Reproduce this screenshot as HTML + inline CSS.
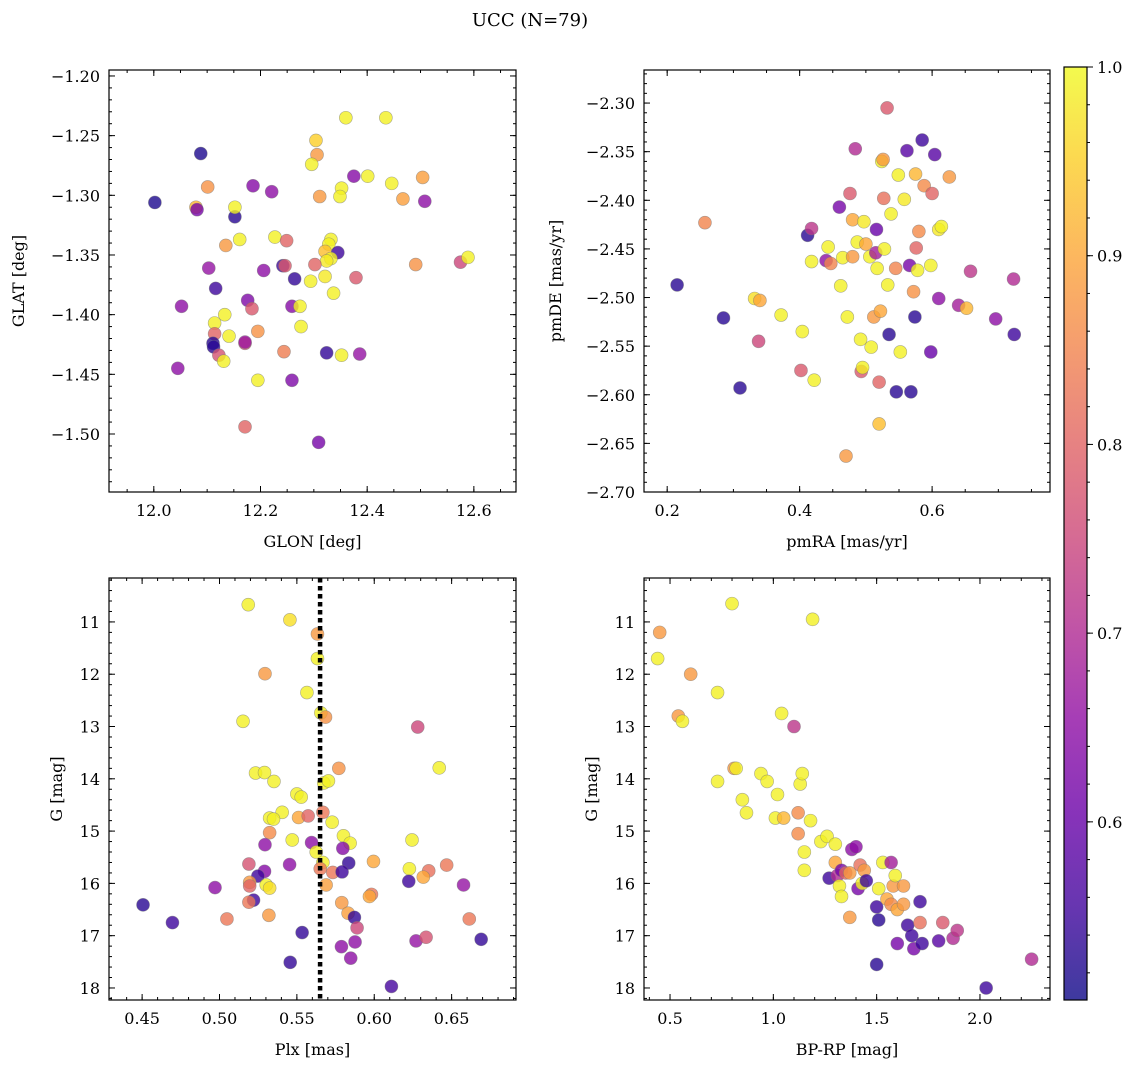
<!DOCTYPE html>
<html><head><meta charset="utf-8"><style>
html,body{margin:0;padding:0;background:#fff;}
svg{display:block;font-family:"DejaVu Serif","Liberation Serif",serif;}
</style></head><body>
<svg id="chart" width="1136" height="1067" viewBox="0 0 1136 1067" xmlns="http://www.w3.org/2000/svg">
<text x="530" y="26" font-size="18" text-anchor="middle">UCC (N=79)</text>
</svg>
<script>
// ---- data ----
const p1x=[12.002,12.088,12.101,12.079,12.081,12.152,12.152,12.186,12.221,12.161,12.135,12.227,12.242,12.249,12.246,12.206,12.103,12.116,12.052,12.176,12.184,12.259,12.274,12.264,12.133,12.114,12.276,12.141,12.195,12.114,12.111,12.171,12.171,12.112,12.122,12.131,12.045,12.195,12.244,12.259,12.171,12.309,12.304,12.306,12.296,12.360,12.435,12.375,12.401,12.446,12.311,12.352,12.349,12.467,12.508,12.504,12.332,12.328,12.321,12.345,12.332,12.324,12.302,12.321,12.294,12.337,12.379,12.491,12.575,12.589,12.324,12.352,12.386];
const p1y=[-1.306,-1.265,-1.293,-1.310,-1.312,-1.318,-1.310,-1.292,-1.297,-1.337,-1.342,-1.335,-1.359,-1.338,-1.359,-1.363,-1.361,-1.378,-1.393,-1.388,-1.395,-1.393,-1.393,-1.370,-1.400,-1.407,-1.410,-1.418,-1.414,-1.416,-1.424,-1.424,-1.423,-1.427,-1.434,-1.439,-1.445,-1.455,-1.431,-1.455,-1.494,-1.507,-1.254,-1.266,-1.274,-1.235,-1.235,-1.284,-1.284,-1.290,-1.301,-1.294,-1.301,-1.303,-1.305,-1.285,-1.337,-1.341,-1.347,-1.348,-1.353,-1.355,-1.358,-1.368,-1.372,-1.382,-1.369,-1.358,-1.356,-1.352,-1.432,-1.434,-1.433];
const p1c=[0.52,0.52,0.87,0.92,0.62,0.53,0.99,0.64,0.65,0.99,0.88,0.99,0.55,0.80,0.78,0.65,0.66,0.55,0.65,0.63,0.78,0.64,0.99,0.54,0.99,0.99,0.99,0.99,0.87,0.80,0.53,0.77,0.67,0.53,0.77,0.99,0.65,0.99,0.84,0.63,0.80,0.62,0.95,0.88,0.99,0.99,0.99,0.64,0.99,0.99,0.88,0.99,0.99,0.89,0.65,0.89,0.99,0.99,0.93,0.55,0.99,0.98,0.80,0.98,0.99,0.99,0.78,0.87,0.75,0.99,0.54,0.99,0.66];

const p2x=[0.215,0.257,0.285,0.31,0.332,0.338,0.34,0.372,0.402,0.404,0.412,0.418,0.418,0.422,0.44,0.443,0.447,0.46,0.462,0.465,0.47,0.472,0.476,0.48,0.48,0.484,0.487,0.492,0.493,0.495,0.497,0.5,0.506,0.508,0.512,0.515,0.516,0.517,0.52,0.52,0.522,0.524,0.526,0.527,0.528,0.532,0.533,0.535,0.538,0.545,0.546,0.549,0.552,0.558,0.562,0.566,0.568,0.572,0.574,0.575,0.576,0.578,0.58,0.585,0.588,0.598,0.598,0.6,0.604,0.61,0.61,0.614,0.626,0.64,0.652,0.658,0.696,0.723,0.724];
const p2y=[-2.487,-2.423,-2.521,-2.593,-2.501,-2.545,-2.503,-2.518,-2.575,-2.535,-2.436,-2.429,-2.463,-2.585,-2.462,-2.448,-2.465,-2.407,-2.488,-2.459,-2.663,-2.52,-2.393,-2.42,-2.458,-2.347,-2.443,-2.543,-2.576,-2.572,-2.422,-2.445,-2.458,-2.551,-2.52,-2.454,-2.43,-2.47,-2.587,-2.63,-2.514,-2.36,-2.358,-2.398,-2.45,-2.305,-2.487,-2.538,-2.414,-2.47,-2.597,-2.374,-2.556,-2.399,-2.349,-2.467,-2.597,-2.494,-2.52,-2.373,-2.449,-2.472,-2.432,-2.338,-2.385,-2.467,-2.556,-2.393,-2.353,-2.43,-2.501,-2.427,-2.376,-2.508,-2.511,-2.473,-2.522,-2.481,-2.538];
const p2c=[0.53,0.85,0.53,0.53,0.97,0.75,0.9,0.99,0.78,0.99,0.53,0.72,0.99,0.99,0.65,0.99,0.85,0.62,0.99,0.99,0.88,0.99,0.78,0.9,0.88,0.7,0.99,0.99,0.78,0.99,0.98,0.9,0.99,0.99,0.88,0.68,0.6,0.99,0.8,0.93,0.9,0.99,0.88,0.82,0.99,0.78,0.99,0.53,0.99,0.85,0.53,0.99,0.99,0.98,0.58,0.62,0.53,0.87,0.53,0.92,0.8,0.99,0.86,0.55,0.86,0.99,0.6,0.8,0.58,0.98,0.65,0.99,0.88,0.68,0.92,0.72,0.65,0.7,0.55];

const p3x=[0.5186,0.5455,0.5633,0.5633,0.5294,0.5565,0.5655,0.5685,0.5152,0.6281,0.6420,0.5771,0.5233,0.5291,0.5352,0.5674,0.5704,0.5500,0.5528,
0.5405,0.5324,0.5349,0.5511,0.5573,0.5668,0.5728,0.5324,0.5801,0.5844,0.5470,0.6244,0.5294,0.5595,0.5797,0.5625,0.5668,0.5835,0.5453,0.5190,0.5995,0.5651,0.5732,0.5792,0.6227,0.6352,0.6468,0.5291,0.5248,0.6317,0.6223,0.6577,0.4971,0.5195,0.5195,0.5302,0.5324,0.5689,0.4506,0.5220,0.5190,0.5790,0.5982,0.5969,0.5831,0.5872,0.5889,0.4696,0.5048,0.5319,0.6614,0.5534,0.5876,0.5788,0.6270,0.6335,0.6691,0.5848,0.5457,0.6111];
const p3y=[10.67,10.96,11.23,11.70,11.99,12.35,12.74,12.82,12.90,13.01,13.79,13.80,13.89,13.88,14.05,14.08,14.04,14.29,14.35,
14.64,14.75,14.77,14.74,14.71,14.64,14.83,15.03,15.09,15.23,15.17,15.17,15.26,15.22,15.33,15.40,15.60,15.61,15.64,15.63,15.58,15.72,15.79,15.78,15.72,15.76,15.65,15.77,15.86,15.88,15.96,16.03,16.08,15.98,16.05,16.03,16.09,16.03,16.41,16.32,16.36,16.37,16.21,16.25,16.57,16.65,16.85,16.75,16.68,16.61,16.68,16.94,17.12,17.21,17.10,17.03,17.07,17.43,17.51,17.97];
const p3c=[0.99,0.97,0.88,0.99,0.88,0.99,0.99,0.87,0.99,0.75,0.99,0.87,0.99,0.99,0.99,0.99,0.99,0.99,0.99,
0.99,0.99,0.99,0.9,0.8,0.83,0.99,0.86,0.99,0.99,0.99,0.99,0.65,0.65,0.64,0.99,0.99,0.54,0.65,0.77,0.9,0.83,0.83,0.55,0.99,0.82,0.83,0.64,0.55,0.9,0.55,0.66,0.65,0.88,0.8,0.99,0.97,0.89,0.53,0.55,0.83,0.88,0.83,0.9,0.89,0.54,0.75,0.55,0.83,0.88,0.83,0.54,0.65,0.65,0.66,0.77,0.54,0.65,0.54,0.56];
const plxLine=[0.565];

const p4x=[0.45,0.44,0.54,0.56,0.6,0.73,0.73,0.8,0.81,0.82,0.85,0.87,0.94,0.97,1.01,1.02,1.04,1.05,1.1,1.12,1.12,1.13,1.14,1.15,1.15,1.18,1.19,1.23,1.26,1.27,1.3,1.3,1.31,1.33,1.32,1.33,1.35,1.37,1.37,1.38,1.4,1.41,1.42,1.43,1.44,1.45,1.5,1.5,1.51,1.51,1.53,1.55,1.57,1.57,1.58,1.59,1.6,1.6,1.63,1.63,1.65,1.67,1.68,1.71,1.71,1.72,1.8,1.82,1.87,1.89,2.03,2.25];
const p4y=[11.2,11.7,12.8,12.9,12.0,12.35,14.05,10.65,13.8,13.8,14.4,14.65,13.9,14.05,14.75,14.3,12.75,14.75,13.0,14.65,15.05,14.1,13.9,15.4,15.75,14.8,10.95,15.2,15.1,15.9,15.25,15.6,15.85,15.75,16.05,16.25,15.8,15.8,16.65,15.35,15.3,16.1,15.65,16.0,15.75,15.95,17.55,16.45,16.7,16.1,15.6,16.3,15.6,16.4,16.05,15.85,16.5,17.15,16.05,16.4,16.8,17.0,17.25,16.35,16.75,17.15,17.1,16.75,17.05,16.9,18.0,17.45];
const p4c=[0.88,0.99,0.88,0.99,0.88,0.99,0.99,0.99,0.88,0.99,0.99,0.99,0.99,0.99,0.99,0.99,0.99,0.92,0.72,0.86,0.86,0.99,0.99,0.99,0.99,0.99,0.99,0.99,0.99,0.55,0.99,0.9,0.7,0.62,0.99,0.99,0.8,0.88,0.88,0.65,0.65,0.62,0.82,0.99,0.88,0.55,0.53,0.55,0.53,0.99,0.99,0.9,0.68,0.86,0.88,0.99,0.9,0.62,0.88,0.88,0.55,0.55,0.62,0.55,0.82,0.55,0.58,0.78,0.7,0.72,0.55,0.7];

const cbTicks=[0.6,0.7,0.8,0.9,1.0];
const VMIN=0.5056, VMAX=1.0;

// ---- helpers ----
const NS="http://www.w3.org/2000/svg";
const svg=document.getElementById('chart');
function mk(tag,attrs,parent){const e=document.createElementNS(NS,tag);for(const k in attrs)e.setAttribute(k,attrs[k]);(parent||svg).appendChild(e);return e;}
const plasma=[[13,8,135],[65,4,157],[106,0,168],[143,13,164],[177,42,144],[204,71,120],[225,100,98],[242,132,75],[252,166,54],[252,206,37],[240,249,33]];
function cmap(p){let t=(p-VMIN)/(VMAX-VMIN);t=Math.max(0,Math.min(1,t));const f=t*10,i=Math.min(9,Math.floor(f)),r=f-i;const a=plasma[i],b=plasma[i+1];return `rgb(${Math.round(a[0]+(b[0]-a[0])*r)},${Math.round(a[1]+(b[1]-a[1])*r)},${Math.round(a[2]+(b[2]-a[2])*r)})`;}
function fmt(v,d){const s=Math.abs(v).toFixed(d);return (v<0?'\u2212':'')+s;}

function panel(cfg){
  const {name,L,R,T,B,xmin,xmax,ymin,ymax,inv,xs,ys,cs,xMaj,xMin,yMaj,yMin,xd,yd,xlab,ylab,ylx}=cfg;
  const sx=v=>L+(v-xmin)/(xmax-xmin)*(R-L);
  const sy=v=>inv?T+(v-ymin)/(ymax-ymin)*(B-T):B-(v-ymin)/(ymax-ymin)*(B-T);
  const g=mk('g',{});
  
  
  const pts=mk('g',{},g);
  
  
  for(let i=0;i<xs.length;i++){
    const c=mk('circle',{cx:sx(xs[i]),cy:sy(ys[i]),r:6.5,fill:cmap(cs[i]),'fill-opacity':0.8,stroke:'#777','stroke-opacity':0.6,'stroke-width':0.6},pts);
    
    
  }
  if(cfg.vline){cfg.vline.forEach(v=>{const l=mk('line',{x1:sx(v),x2:sx(v),y1:T,y2:B,stroke:'#000','stroke-width':4.5,'stroke-dasharray':'4.5,3.5'},g);
    
    });}
  const fr=mk('rect',{x:L,y:T,width:R-L,height:B-T,fill:'none',stroke:'#000','stroke-width':1.2},g);
  
  
  const tk=mk('g',{stroke:'#000','stroke-width':1},g);
  const eps=1e-9;
  function ticks(step,lo,hi,cb){const s=Math.ceil((lo-eps)/step);for(let k=s;k*step<=hi+eps;k++)cb(+(k*step).toFixed(6));}
  ticks(xMin,xmin,xmax,v=>{const x=sx(v);mk('line',{x1:x,x2:x,y1:B,y2:B-3},tk);mk('line',{x1:x,x2:x,y1:T,y2:T+3},tk);});
  ticks(yMin,ymin,ymax,v=>{const y=sy(v);mk('line',{x1:L,x2:L+3,y1:y,y2:y},tk);mk('line',{x1:R,x2:R-3,y1:y,y2:y},tk);});
  ticks(xMaj,xmin,xmax,v=>{const x=sx(v);mk('line',{x1:x,x2:x,y1:B,y2:B-6},tk);mk('line',{x1:x,x2:x,y1:T,y2:T+6},tk);
    const t=mk('text',{x:x,y:B+24,'font-size':16,'text-anchor':'middle'},g);t.textContent=fmt(v,xd);
    
    });
  ticks(yMaj,ymin,ymax,v=>{const y=sy(v);mk('line',{x1:L,x2:L+6,y1:y,y2:y},tk);mk('line',{x1:R,x2:R-6,y1:y,y2:y},tk);
    const t=mk('text',{x:L-9,y:y+6,'font-size':16,'text-anchor':'end'},g);t.textContent=fmt(v,yd);
    
    });
  const xl=mk('text',{x:(L+R)/2,y:B+55,'font-size':16,'text-anchor':'middle'},g);xl.textContent=xlab;
  
  
  const yx=ylx,yy=(T+B)/2;
  const yl=mk('text',{x:yx,y:yy,'font-size':16,'text-anchor':'middle',transform:`rotate(-90 ${yx} ${yy})`},g);yl.textContent=ylab;
  
  
}

panel({name:'glon-glat-panel',L:109,R:516,T:70,B:492,xmin:11.916,xmax:12.679,ymin:-1.5486,ymax:-1.195,inv:false,xs:p1x,ys:p1y,cs:p1c,xMaj:0.2,xMin:0.05,yMaj:0.05,yMin:0.01,xd:1,yd:2,xlab:'GLON [deg]',ylab:'GLAT [deg]',ylx:24});
panel({name:'pm-panel',L:644,R:1050,T:70,B:492,xmin:0.165,xmax:0.778,ymin:-2.700,ymax:-2.266,inv:false,xs:p2x,ys:p2y,cs:p2c,xMaj:0.2,xMin:0.05,yMaj:0.05,yMin:0.01,xd:1,yd:2,xlab:'pmRA [mas/yr]',ylab:'pmDE [mas/yr]',ylx:561});
panel({name:'plx-g-panel',L:109,R:516,T:578,B:1000,xmin:0.4286,xmax:0.6916,ymin:10.16,ymax:18.23,inv:true,xs:p3x,ys:p3y,cs:p3c,xMaj:0.05,xMin:0.01,yMaj:1,yMin:0.2,xd:2,yd:0,xlab:'Plx [mas]',ylab:'G [mag]',ylx:62,vline:plxLine});
panel({name:'cmd-panel',L:644,R:1050,T:578,B:1000,xmin:0.374,xmax:2.339,ymin:10.16,ymax:18.23,inv:true,xs:p4x,ys:p4y,cs:p4c,xMaj:0.5,xMin:0.1,yMaj:1,yMin:0.2,xd:1,yd:0,xlab:'BP-RP [mag]',ylab:'G [mag]',ylx:597});

// colorbar
const cbL=1064,cbR=1087,cbT=67,cbB=1000;
const defs=mk('defs',{});
const grad=mk('linearGradient',{id:'cbg',x1:0,y1:1,x2:0,y2:0},defs);
for(let i=0;i<=10;i++){mk('stop',{offset:i/10,'stop-color':`rgb(${plasma[i].join(',')})`,'stop-opacity':0.8},grad);}
const cbg=mk('g',{});


mk('rect',{x:cbL,y:cbT,width:cbR-cbL,height:cbB-cbT,fill:'url(#cbg)',stroke:'#000','stroke-width':1.2},cbg);
const cy=v=>cbB-(v-VMIN)/(VMAX-VMIN)*(cbB-cbT);
for(let k=26;k<=50;k++){const v=k*0.02;if(v<VMIN||v>VMAX+1e-9)continue;const y=cy(v);mk('line',{x1:cbR,x2:cbR+3,y1:y,y2:y,stroke:'#000'},cbg);}
cbTicks.forEach(v=>{const y=cy(v);mk('line',{x1:cbR,x2:cbR+6,y1:y,y2:y,stroke:'#000'},cbg);
  const t=mk('text',{x:cbR+10,y:y+6,'font-size':16},cbg);t.textContent=v.toFixed(1);
  
  });
</script>
</body></html>
